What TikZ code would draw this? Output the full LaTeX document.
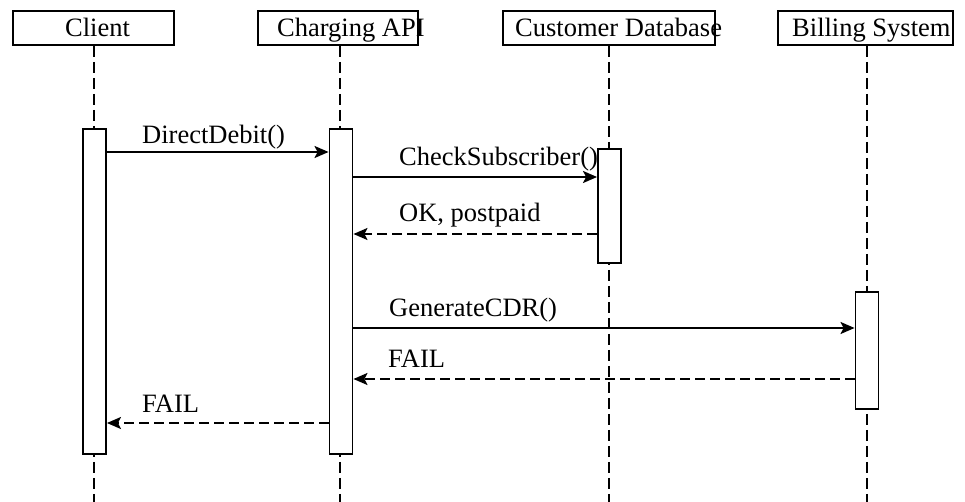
\documentclass[tikz,border=0pt]{standalone}
\usepackage{fontspec}
\setmainfont{Liberation Serif}
\usetikzlibrary{arrows.meta}
\begin{document}
\begin{tikzpicture}[x=1pt,y=-1pt,
  every node/.style={font=\fontsize{26.5}{30}\selectfont},
  headbox/.style={draw,line width=1.9pt,rectangle,inner sep=0pt},
  lbl/.style={anchor=base west,inner sep=0pt},
  lifeline/.style={line width=1.9pt,dash pattern=on 11pt off 5pt},
  actbar/.style={draw,fill=white,line width=1.9pt,rectangle,inner sep=0pt,minimum width=23pt},
  msg/.style={line width=1.9pt,-{Stealth[length=14pt,width=12pt,inset=3pt]}},
  reply/.style={msg,dash pattern=on 10pt off 5pt}]
\useasboundingbox (0,0) rectangle (965,502);
% header boxes
\node[headbox,minimum width=161pt,minimum height=34pt] (hclient) at (93.5,28) {};
\node[headbox,minimum width=160pt,minimum height=34pt] (hapi) at (338,28) {};
\node[headbox,minimum width=212pt,minimum height=34pt] (hdb) at (609,28) {};
\node[headbox,minimum width=175pt,minimum height=34pt] (hbill) at (865.5,28) {};
\node[lbl] (tclient) at (65,37) {Client};
\node[lbl] (tapi) at (277,37) {Charging API};
\node[lbl] (tdb) at (515,37) {Customer Database};
\node[lbl] (tbill) at (792,37) {Billing System};
% lifeline ends
\coordinate (eclient) at (94,502);
\coordinate (eapi) at (340,502);
\coordinate (edb) at (609,502);
\coordinate (ebill) at (867,502);
\draw[lifeline] (hclient.south -| eclient) -- (eclient);
\draw[lifeline] (hapi.south -| eapi) -- (eapi);
\draw[lifeline] (hdb.south -| edb) -- (edb);
\draw[lifeline] (hbill.south -| ebill) -- (ebill);
% activation bars
\node[actbar,minimum height=325pt] (bclient) at (94.5,291.5) {};
\node[actbar,minimum height=325pt] (bapi) at (341,291.5) {};
\node[actbar,minimum height=114pt] (bdb) at (609.5,206) {};
\node[actbar,minimum height=117pt] (bbill) at (867,350.5) {};
% messages
\draw[msg] (bclient.east |- 0,152) -- (bapi.west |- 0,152);
\node[lbl] (m1) at (142,144) {DirectDebit()};
\draw[msg] (bapi.east |- 0,177) -- (bdb.west |- 0,177);
\node[lbl] (m2) at (399,166) {CheckSubscriber()};
\draw[reply] (bdb.west |- 0,234) -- (bapi.east |- 0,234);
\node[lbl] (m3) at (399,222) {OK, postpaid};
\draw[msg] (bapi.east |- 0,328) -- (bbill.west |- 0,328);
\node[lbl] (m4) at (389,316) {GenerateCDR()};
\draw[reply] (bbill.west |- 0,379) -- (bapi.east |- 0,379);
\node[lbl] (m5) at (388,367) {FAIL};
\draw[reply] (bapi.west |- 0,423) -- (bclient.east |- 0,423);
\node[lbl] (m6) at (142,412) {FAIL};
\end{tikzpicture}
\end{document}
